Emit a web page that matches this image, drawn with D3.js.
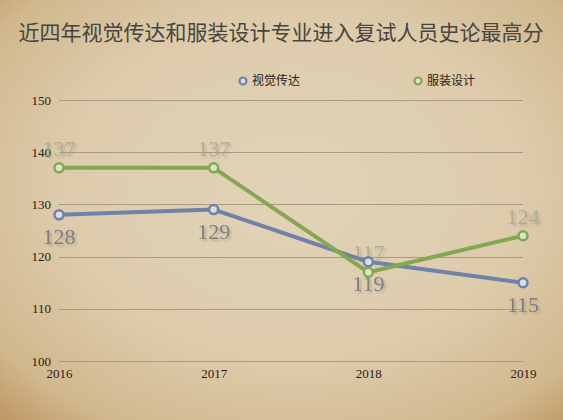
<!DOCTYPE html>
<html><head><meta charset="utf-8">
<script src="https://cdn.jsdelivr.net/npm/d3@7"></script>
<style>body{margin:0;padding:0;overflow:hidden}svg{display:block}</style>
</head><body>
<svg id="c" width="563" height="420"></svg>
<script>
const years = ["2016","2017","2018","2019"];
const seriesNames = ["视觉传达","服装设计"];
const visualValues = [128,129,119,115];
const fashionValues = [137,137,117,124];
const yTicks = [100,110,120,130,140,150];
const title = "近四年视觉传达和服装设计专业进入复试人员史论最高分";

const W=563,H=420;
const svg=d3.select("#c");
const defs=svg.append("defs");
const rg=defs.append("radialGradient").attr("id","bg").attr("cx","52%").attr("cy","45%").attr("r","75%");
rg.append("stop").attr("offset","0%").attr("stop-color","#e2d3b8");
rg.append("stop").attr("offset","55%").attr("stop-color","#ddcbab");
rg.append("stop").attr("offset","85%").attr("stop-color","#d1b88d");
rg.append("stop").attr("offset","100%").attr("stop-color","#bf9865");
svg.append("rect").attr("width",W).attr("height",H).attr("fill","url(#bg)");
const f=defs.append("filter").attr("id","sh").attr("x","-20%").attr("y","-20%").attr("width","150%").attr("height","150%");
f.append("feDropShadow").attr("dx",2).attr("dy",2).attr("stdDeviation",1.2).attr("flood-color","#7a7265").attr("flood-opacity",0.45);

const x=d3.scalePoint().domain(years).range([59,523]);
const y=d3.scaleLinear().domain([100,150]).range([361,100]);

svg.append("g").selectAll("line").data(yTicks).join("line")
 .attr("x1",59).attr("x2",523).attr("y1",d=>Math.round(y(d))+0.5).attr("y2",d=>Math.round(y(d))+0.5)
 .attr("stroke","#a89a84").attr("stroke-width",1);

const yAxis=svg.append("g").attr("transform","translate(51,0)")
 .call(d3.axisLeft(y).tickValues(yTicks).tickSize(0).tickPadding(0));
yAxis.select(".domain").remove();
yAxis.selectAll("text").attr("font-family","Liberation Serif, serif").attr("font-size",13).attr("fill","#2a2018").attr("dy","0.32em");

const xAxis=svg.append("g").attr("transform","translate(0,369)")
 .call(d3.axisBottom(x).tickSize(0).tickPadding(0));
xAxis.select(".domain").remove();
xAxis.selectAll("text").attr("font-family","Liberation Serif, serif").attr("font-size",13).attr("fill","#2a2018").attr("dy","0.71em");

svg.append("text").attr("x",281).attr("y",40).attr("text-anchor","middle")
 .attr("font-family","Noto Sans CJK SC").attr("font-size",21).attr("fill","#484440").text(title);

const series=[
 {name:seriesNames[0],vals:visualValues,color:"#6f82a8",fill:"#d6dde6",lab:"#6d7280",labOp:0.85,below:true},
 {name:seriesNames[1],vals:fashionValues,color:"#82a851",fill:"#dbe6c8",lab:"#a0a58c",labOp:0.75,below:false}
];
const line=d3.line().x((d,i)=>x(years[i])).y(d=>y(d));

series.forEach(s=>{
  svg.append("g").attr("opacity",s.labOp).attr("filter","url(#sh)").selectAll("text").data(s.vals).join("text")
   .attr("x",(d,i)=>x(years[i])).attr("y",d=>y(d)+(s.below?29:-12))
   .attr("text-anchor","middle").attr("font-family","Liberation Serif, serif").attr("font-size",22)
   .attr("fill",s.lab).text(d=>d);
});
series.forEach(s=>{
  svg.append("path").datum(s.vals).attr("d",line).attr("fill","none").attr("stroke",s.color).attr("stroke-width",4).attr("stroke-linejoin","round");
  svg.append("g").selectAll("circle").data(s.vals).join("circle")
   .attr("cx",(d,i)=>x(years[i])).attr("cy",d=>y(d)).attr("r",4.5)
   .attr("fill",s.fill).attr("stroke",s.color).attr("stroke-width",2.5);
});

const leg=[{x:243},{x:418}];
series.forEach((s,i)=>{
  const g=svg.append("g").attr("transform",`translate(${leg[i].x},81)`);
  g.append("circle").attr("r",3.5).attr("fill",s.fill).attr("stroke",s.color).attr("stroke-width",2.2);
  g.append("text").attr("x",9).attr("dy","0.35em").attr("font-family","Noto Sans CJK SC").attr("font-size",12).attr("fill","#2a2018").text(s.name);
});
</script>
</body></html>
